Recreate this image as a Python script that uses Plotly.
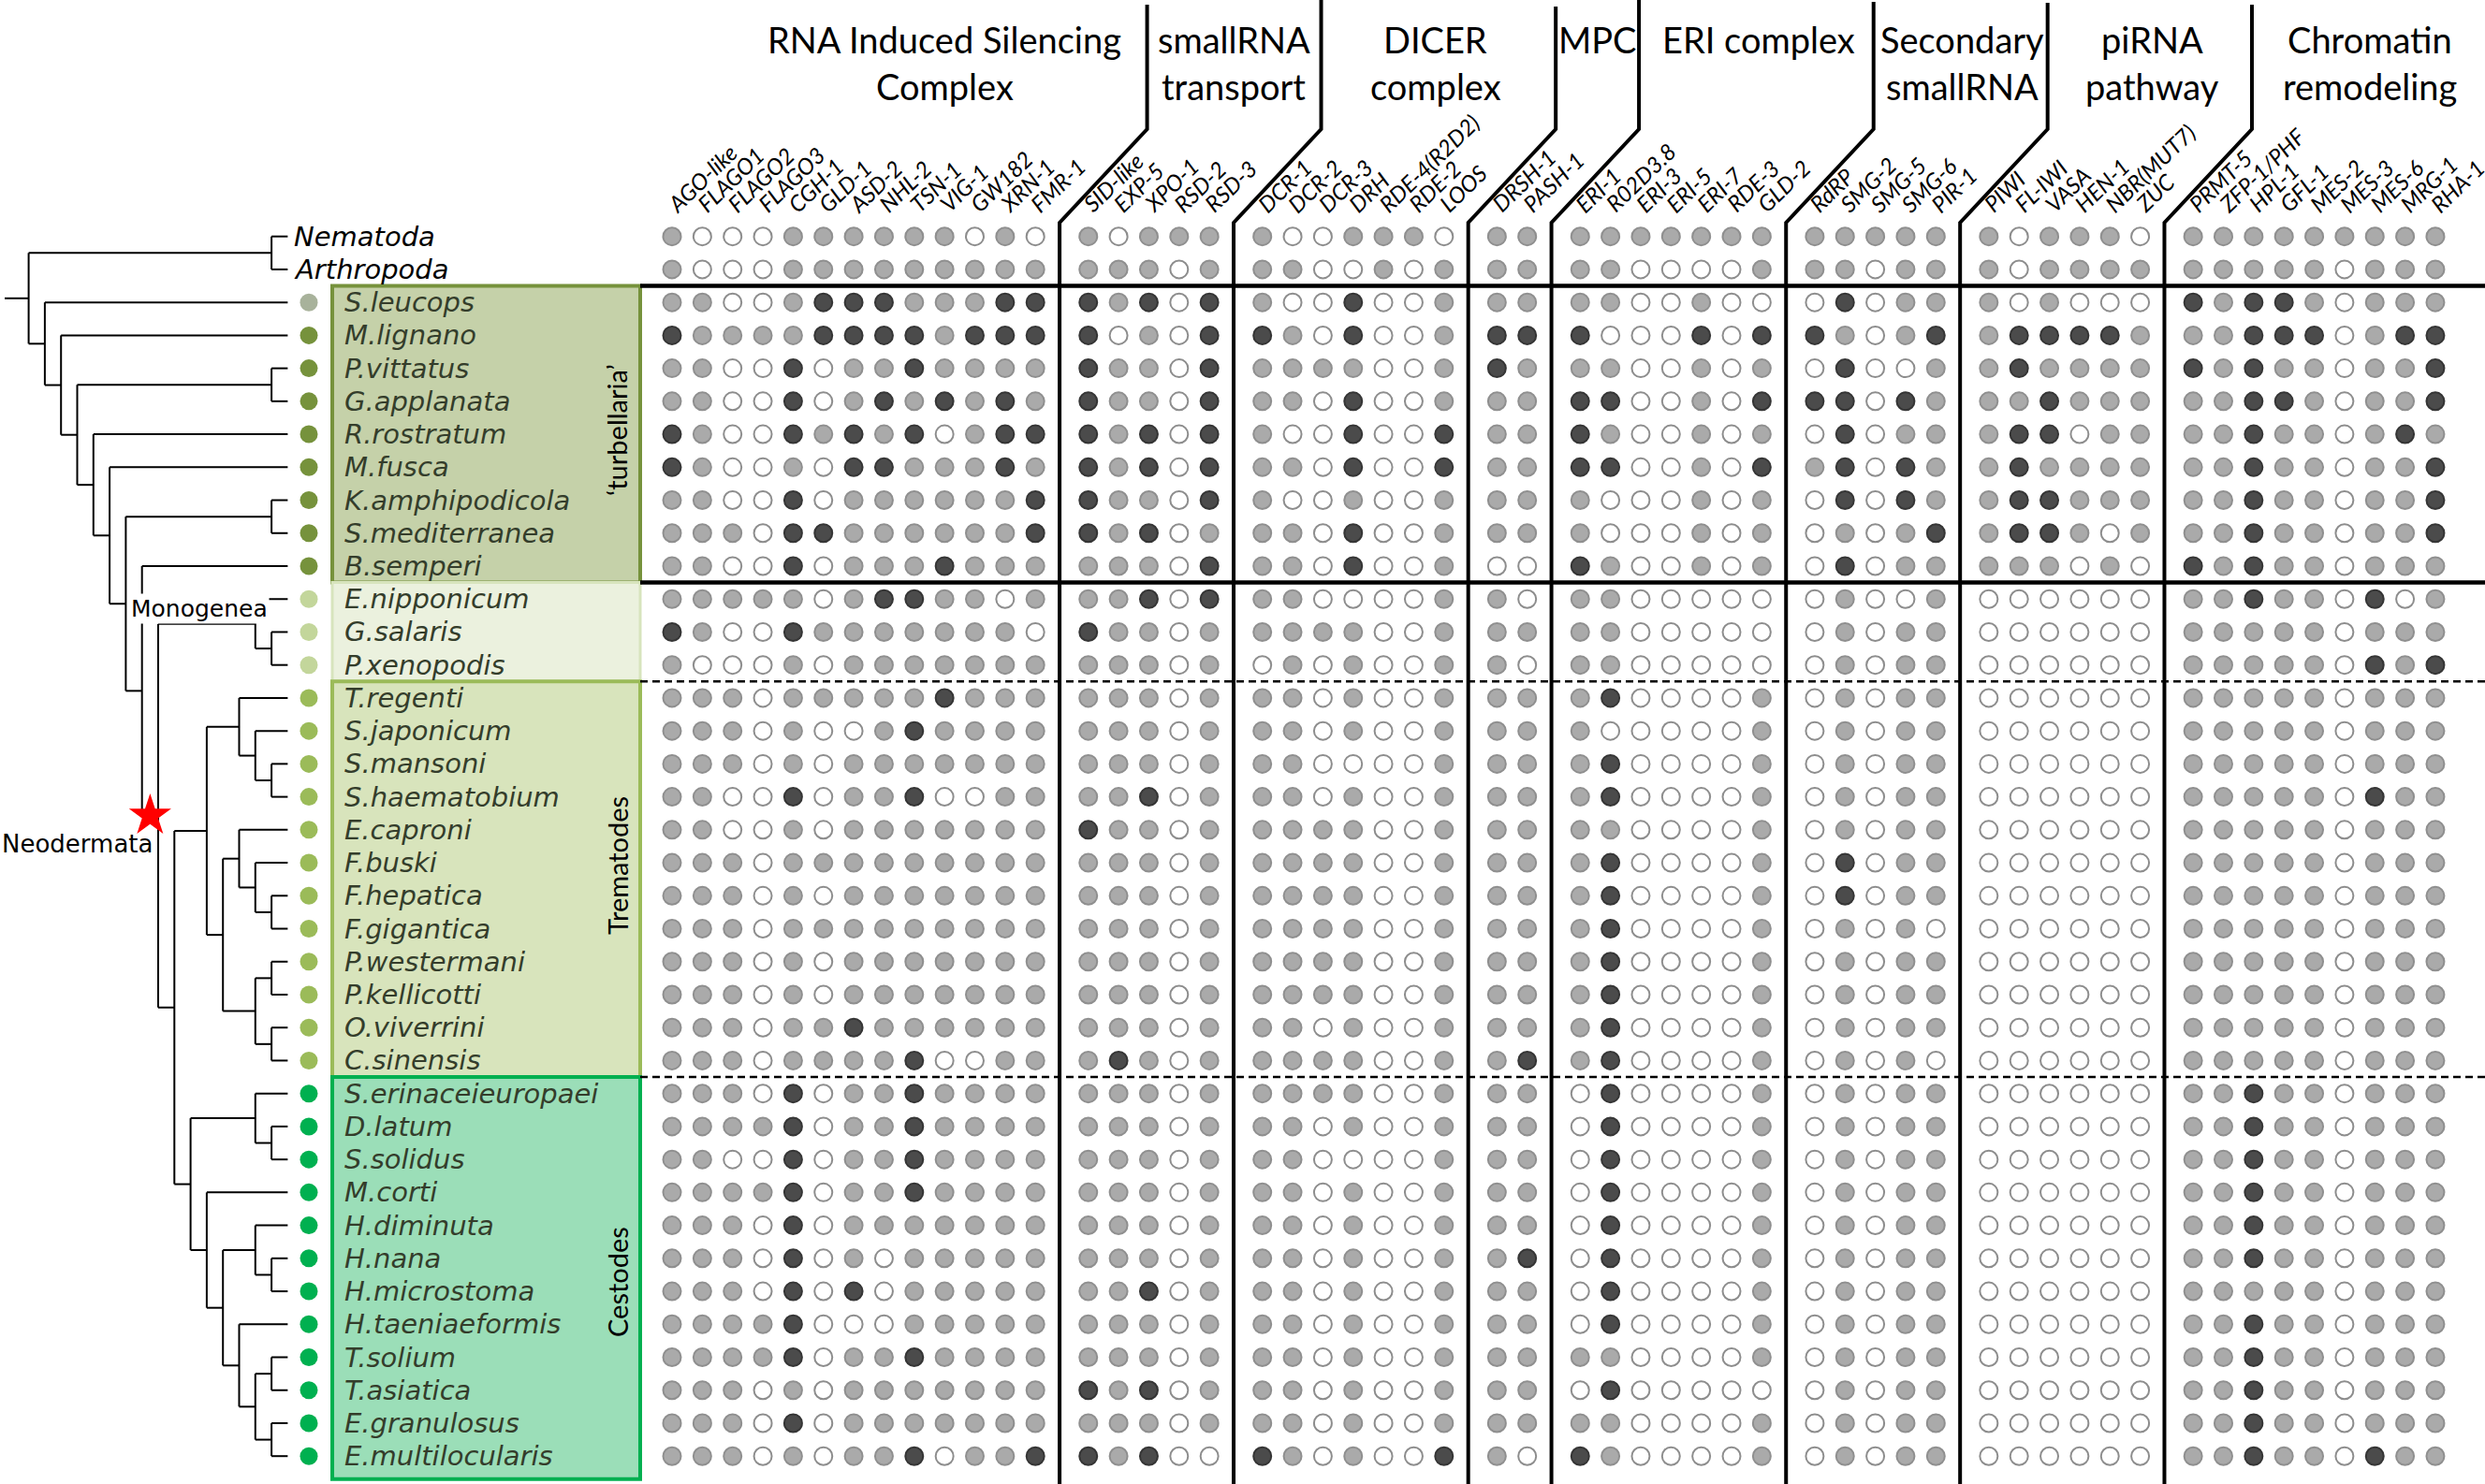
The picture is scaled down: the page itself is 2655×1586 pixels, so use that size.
import plotly.graph_objects as go

# ---------------- data ----------------
GROUP_TITLES = [
    ["RNA Induced Silencing", "Complex"],
    ["smallRNA", "transport"],
    ["DICER", "complex"],
    ["MPC"],
    ["ERI complex"],
    ["Secondary", "smallRNA"],
    ["piRNA", "pathway"],
    ["Chromatin", "remodeling"],
]
GENES_RISC = ["AGO-like", "FLAGO1", "FLAGO2", "FLAGO3", "CGH-1", "GLD-1", "ASD-2", "NHL-2",
              "TSN-1", "VIG-1", "GW182", "XRN-1", "FMR-1"]
GENES_TRANSPORT = ["SID-like", "EXP-5", "XPO-1", "RSD-2", "RSD-3"]
GENES_DICER = ["DCR-1", "DCR-2", "DCR-3", "DRH", "RDE-4(R2D2)", "RDE-2", "LOOS"]
GENES_MPC = ["DRSH-1", "PASH-1"]
GENES_ERI = ["ERI-1", "R02D3.8", "ERI-3", "ERI-5", "ERI-7", "RDE-3", "GLD-2"]
GENES_SECONDARY = ["RdRP", "SMG-2", "SMG-5", "SMG-6", "PIR-1"]
GENES_PIRNA = ["PIWI", "FL-IWI", "VASA", "HEN-1", "NBR(MUT7)", "ZUC"]
GENES_CHROMATIN = ["PRMT-5", "ZFP-1/PHF", "HPL-1", "GFL-1", "MES-2", "MES-3", "MES-6", "MRG-1", "RHA-1"]

SPECIES = ["Nematoda", "Arthropoda",
           "S.leucops", "M.lignano", "P.vittatus", "G.applanata", "R.rostratum", "M.fusca",
           "K.amphipodicola", "S.mediterranea", "B.semperi",
           "E.nipponicum", "G.salaris", "P.xenopodis",
           "T.regenti", "S.japonicum", "S.mansoni", "S.haematobium", "E.caproni", "F.buski",
           "F.hepatica", "F.gigantica", "P.westermani", "P.kellicotti", "O.viverrini", "C.sinensis",
           "S.erinaceieuropaei", "D.latum", "S.solidus", "M.corti", "H.diminuta", "H.nana",
           "H.microstoma", "H.taeniaeformis", "T.solium", "T.asiatica", "E.granulosus",
           "E.multilocularis"]
DOT_CLASS = ["none", "none", "basal"] + ["turb"] * 8 + ["mono"] * 3 + ["trem"] * 12 + ["cest"] * 12

# 0 = absent (open), 1 = present (light), 2 = dark
STATE_RISC = ["1000111111010", "1000111111111", "1100122211122", "2111122221222", "1100201121111",
              "1100201212121", "2100212120122", "2100102211121", "1100201111112", "1110221111112",
              "1100201112111", "1111101221101", "2100211111110", "1000101111111", "1110111112111",
              "1110100121111", "1110101111111", "1100201120011", "1100101111111", "1110111111111",
              "1110101111111", "1110111111111", "1110101111111", "1110101111111", "1110112111111",
              "1110111120011", "1110201121111", "1111201121111", "1100201121111", "1111201121111",
              "1110201111111", "1110201011111", "1110202011111", "1111200011111", "1111201121111",
              "1110101111111", "1110201111111", "1110101120112"]
STATE_TRANSPORT = ["10111", "11101", "21202", "20102", "21102", "21102", "21202", "21202", "21102",
                   "21201", "11102", "11202", "21101", "11101", "11101", "11101", "11101", "11201",
                   "21101", "11101", "11101", "11101", "11101", "11101", "11101", "12101", "11101",
                   "11101", "11101", "11101", "11101", "11101", "11201", "11101", "11101", "21201",
                   "11101", "21200"]
STATE_DICER = ["1001110", "1100101", "1002001", "2102001", "1111001", "1102001", "1002002", "1102002",
               "1001001", "1102001", "1102001", "1100001", "1111001", "0101001", "1101001", "1101001",
               "1100001", "1101001", "1111001", "1111001", "1111001", "1111001", "1111001", "1111001",
               "1101001", "1111001", "1111001", "1101001", "1100001", "1101001", "1101001", "1101001",
               "1101001", "1101001", "1101001", "1101001", "1101001", "2101002"]
STATE_MPC = ["11", "11", "11", "22", "21", "11", "11", "11", "11", "11", "00", "10", "11", "10",
             "11", "11", "11", "11", "11", "11", "11", "11", "11", "11", "11", "12", "11", "11",
             "11", "11", "11", "12", "11", "11", "11", "11", "11", "10"]
STATE_ERI = ["1111111", "1100001", "1100100", "2000202", "1100101", "2200102", "2100101", "2200102",
             "1000101", "1000101", "2100101", "1100000", "1100000", "1100000", "1200001", "1000001",
             "1200001", "1200001", "1100001", "1200001", "1200001", "1200001", "1200001", "1200001",
             "1200001", "1200001", "0200001", "0200001", "0200001", "0200001", "0200001", "0200001",
             "0200001", "0200001", "1100001", "0200000", "1100001", "2100001"]
STATE_SECONDARY = ["11111", "11011", "02011", "21012", "02001", "22021", "02011", "12021", "02021",
                   "01012", "02011", "01001", "01011", "01011", "01011", "01011", "01011", "01011",
                   "01011", "02011", "02011", "01010", "01011", "01011", "01011", "01010", "01011",
                   "01011", "01011", "01011", "01011", "01011", "01011", "01011", "01011", "01011",
                   "01011", "01011"]
STATE_PIRNA = ["101110", "101111", "101000", "122221", "121111", "112111", "122011", "121111",
               "122111", "122101", "111010"] + ["000000"] * 27
STATE_CHROMATIN = ["111111111", "111110111", "212210111", "112220122", "212110112", "112210112",
                   "112110121", "112110112", "112110112", "112110112", "212110111", "112110201",
                   "111110111", "111110212", "111110111", "111110111", "111110111", "111110211",
                   "111110111", "111110111", "111110111", "111110111", "111110111", "111110111",
                   "111110111", "111110111", "112110111", "112110111", "112110111", "112110111",
                   "112110111", "112110111", "111110111", "112110111", "112110111", "112110111",
                   "112110111", "112110211"]

GENE_GROUPS = [GENES_RISC, GENES_TRANSPORT, GENES_DICER, GENES_MPC, GENES_ERI,
               GENES_SECONDARY, GENES_PIRNA, GENES_CHROMATIN]
STATE_GROUPS = [STATE_RISC, STATE_TRANSPORT, STATE_DICER, STATE_MPC, STATE_ERI,
                STATE_SECONDARY, STATE_PIRNA, STATE_CHROMATIN]

# phylogeny: (label, depth level, children)
MONO = ("Monogenea", 14, ["E.nipponicum", ("gp", 15, ["G.salaris", "P.xenopodis"])])
T1 = ("t1", 13, ["T.regenti", ("sch", 14, ["S.japonicum", ("sms", 15, ["S.mansoni", "S.haematobium"])])])
T2A = ("t2a", 13, ["E.caproni", ("fb", 14, ["F.buski", ("ff", 15, ["F.hepatica", "F.gigantica"])])])
T2B = ("t2b", 14, [("pp", 15, ["P.westermani", "P.kellicotti"]), ("oc", 15, ["O.viverrini", "C.sinensis"])])
TREM = ("Trematodes", 11, [T1, ("t2", 12, [T2A, T2B])])
C6 = ("c6", 14, [("tt", 15, ["T.solium", "T.asiatica"]), ("ee", 15, ["E.granulosus", "E.multilocularis"])])
C5 = ("c5", 13, ["H.taeniaeformis", C6])
C4 = ("c4", 14, ["H.diminuta", ("hh", 15, ["H.nana", "H.microstoma"])])
C2 = ("c2", 11, ["M.corti", ("c3", 12, [C4, C5])])
C1 = ("c1", 14, ["S.erinaceieuropaei", ("ds", 15, ["D.latum", "S.solidus"])])
CEST = ("Cestodes", 10, [C1, C2])
NEO = ("Neodermata", 8, [MONO, ("tc", 9, [TREM, CEST])])
N7 = ("n7", 7, ["B.semperi", NEO])
N6 = ("n6", 6, [("ks", 15, ["K.amphipodicola", "S.mediterranea"]), N7])
N5 = ("n5", 5, ["M.fusca", N6])
N4 = ("n4", 4, ["R.rostratum", N5])
N3 = ("n3", 3, [("pg", 15, ["P.vittatus", "G.applanata"]), N4])
N2 = ("n2", 2, ["M.lignano", N3])
N1 = ("n1", 1, ["S.leucops", N2])
TREE = ("root", 0, [("out", 15, ["Nematoda", "Arthropoda"]), N1])

# ---------------- layout constants (pixels of the 2655 x 1586 canvas) ----------------
W, H = 2655, 1586
COL_X0, COL_DX, GROUP_GAP = 718.0, 32.35, 24.2 / 32.35
ROW_Y0, ROW_DY = 252.7, 35.23
LEV_X0, LEV_DX = 30.6, 17.3
TIP_LEVEL, DOT_LEVEL = 16.0, (330 - 30.6) / 17.3


def px(x):
    return x / W


def py(y):
    return 1 - y / H


fig = go.Figure()

# ---------------- matrix ----------------
col_pos = []
col_names = []
group_last = []
for g, genes in enumerate(GENE_GROUPS):
    start = len(col_pos)
    for k, name in enumerate(genes):
        col_pos.append(start + k + g * GROUP_GAP)
        col_names.append(name)
    group_last.append(col_pos[-1])

styles = {
    0: dict(color="white", line=dict(color="#8d8d8d", width=2)),
    1: dict(color="#aaaaaa", line=dict(color="#8f8f8f", width=2)),
    2: dict(color="#4b4b4b", line=dict(color="#353535", width=2)),
}
pts = {0: ([], []), 1: ([], []), 2: ([], [])}
for r in range(len(SPECIES)):
    row = "".join(sg[r] for sg in STATE_GROUPS)
    for c, ch in enumerate(row):
        s = int(ch)
        pts[s][0].append(col_pos[c])
        pts[s][1].append(r)
for s in (0, 1, 2):
    fig.add_trace(go.Scatter(x=pts[s][0], y=pts[s][1], mode="markers", hoverinfo="skip",
                             marker=dict(size=19, symbol="circle", **styles[s]), showlegend=False))

# ---------------- tree ----------------
tx, ty = [], []
node_pos = {}


def draw(node):
    if isinstance(node, str):
        return TIP_LEVEL, SPECIES.index(node)
    name, lev, kids = node
    cp = [draw(k) for k in kids]
    for cx, cy in cp:
        tx.extend([lev, cx, None])
        ty.extend([cy, cy, None])
    ys = [p[1] for p in cp]
    tx.extend([lev, lev, None])
    ty.extend([min(ys), max(ys), None])
    y = (ys[0] + ys[-1]) / 2
    node_pos[name] = (lev, y)
    return lev, y


rx, ry = draw(TREE)
tx.extend([(5 - LEV_X0) / LEV_DX, rx, None])
ty.extend([ry, ry, None])
fig.add_trace(go.Scatter(x=tx, y=ty, mode="lines", xaxis="x2", hoverinfo="skip",
                         line=dict(color="black", width=2), showlegend=False))

dot_colors = {"basal": "#a8b29b", "turb": "#76923c", "mono": "#c3d69b", "trem": "#9bbb59", "cest": "#00b050"}
dx_, dy_, dc_ = [], [], []
for r, cl in enumerate(DOT_CLASS):
    if cl in dot_colors:
        dx_.append(DOT_LEVEL)
        dy_.append(r)
        dc_.append(dot_colors[cl])
fig.add_trace(go.Scatter(x=dx_, y=dy_, mode="markers", xaxis="x2", hoverinfo="skip",
                         marker=dict(size=19, color=dc_, line=dict(width=0)), showlegend=False))

nlev, ny = node_pos["Neodermata"]
fig.add_trace(go.Scatter(x=[nlev - 0.5], y=[ny], mode="markers", xaxis="x2", hoverinfo="skip",
                         marker=dict(symbol="star", size=34, color="#ff0000", line=dict(width=0)),
                         showlegend=False))

# ---------------- shapes ----------------
shapes = []
boxes = [  # (row top, row bottom, fill, border, width)
    (1.5, 10.5, "#c5d1a9", "#76923c", 4),
    (10.5, 13.5, "#ebf1de", "#d7e4bd", 3),
    (13.5, 25.5, "#d8e4bc", "#9bbb59", 4),
    (25.5, 37.7, "#9bdeb8", "#00b050", 4),
]
for y0, y1, fc, lc, lw in boxes:
    shapes.append(dict(type="rect", xref="paper", yref="y", x0=px(355), x1=px(684), y0=y0, y1=y1,
                       fillcolor=fc, line=dict(color=lc, width=lw), layer="below"))

for yb, dash, lw in [(1.5, "solid", 4.5), (10.5, "solid", 4.5), (13.5, "8px,5px", 2.5), (25.5, "8px,5px", 2.5)]:
    shapes.append(dict(type="line", xref="paper", yref="y", x0=px(684), x1=1, y0=yb, y1=yb,
                       line=dict(color="black", width=lw, dash=dash)))

tops = [5, 0, 7, 0, 2, 3, 5]
for g in range(7):
    xl = group_last[g] + 0.8
    xt = xl + 93.5 / COL_DX
    path = (f"M {xt},{py(tops[g])} L {xt},{py(138)} L {xl},{py(238)} L {xl},{py(1586)}")
    shapes.append(dict(type="path", xref="x", yref="paper", path=path,
                       line=dict(color="black", width=4)))

# ---------------- annotations ----------------
ann = []
title_x = [1009, 1318, 1534, 1707, 1879, 2096, 2299, 2532]
for g, lines in enumerate(GROUP_TITLES):
    for li, t in enumerate(lines):
        ann.append(dict(text=t, xref="paper", yref="paper", x=px(title_x[g]), y=py(42 + 50 * li),
                        xanchor="center", yanchor="middle", showarrow=False,
                        font=dict(family="Lato", size=38, color="black")))

for c, name in enumerate(col_names):
    ann.append(dict(text=f"<i>{name}</i>", xref="x", yref="paper", x=col_pos[c] - 14 / COL_DX,
                    y=py(235), xanchor="left", yanchor="bottom", textangle=-44, showarrow=False,
                    font=dict(family="Lato", size=24, color="black")))

for r, name in enumerate(SPECIES):
    xs = 312 if DOT_CLASS[r] == "none" else 366
    col = "black" if DOT_CLASS[r] == "none" else "#343d2b"
    ann.append(dict(text=f"<i>{name}</i>", xref="paper", yref="y", x=px(xs), y=r,
                    xanchor="left", yanchor="middle", showarrow=False,
                    font=dict(family="DejaVu Sans", size=29, color=col)))

for t, yc in [("\u2018turbellaria\u2019", 460), ("Trematodes", 925), ("Cestodes", 1370)]:
    ann.append(dict(text=t, xref="paper", yref="paper", x=px(659), y=py(yc), textangle=-90,
                    xanchor="center", yanchor="middle", showarrow=False,
                    font=dict(family="Lato", size=29, color="black")))

ann.append(dict(text="Monogenea", xref="paper", yref="paper", x=px(213), y=py(651),
                xanchor="center", yanchor="middle", showarrow=False, bgcolor="white",
                font=dict(family="DejaVu Sans", size=25, color="black")))
ann.append(dict(text="Neodermata", xref="paper", yref="paper", x=px(0), y=py(902),
                xanchor="left", yanchor="middle", showarrow=False,
                font=dict(family="DejaVu Sans", size=26, color="black")))

fig.update_layout(
    width=W, height=H, autosize=False,
    margin=dict(l=0, r=0, t=0, b=0, pad=0),
    paper_bgcolor="white", plot_bgcolor="white",
    xaxis=dict(range=[-COL_X0 / COL_DX, (W - COL_X0) / COL_DX], visible=False, fixedrange=True),
    xaxis2=dict(range=[-LEV_X0 / LEV_DX, (W - LEV_X0) / LEV_DX], visible=False, overlaying="x",
                anchor="y", fixedrange=True),
    yaxis=dict(range=[(H - ROW_Y0) / ROW_DY, -ROW_Y0 / ROW_DY], visible=False, fixedrange=True),
    shapes=shapes, annotations=ann, showlegend=False,
)

fig.write_html("out.html", config={"displayModeBar": False},
               post_script="document.body.style.margin='0';document.body.style.overflow='hidden';")
